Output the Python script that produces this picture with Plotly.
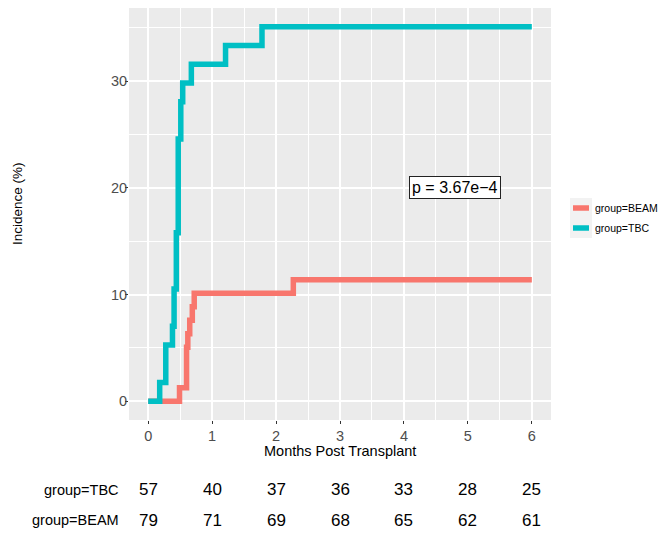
import plotly.graph_objects as go

# ---- data ----
tbc_time = [0, 0.18, 0.275, 0.38, 0.405, 0.44, 0.47, 0.51, 0.54, 0.675, 1.21, 1.78, 6]
tbc_inc = [0, 1.75, 5.26, 7.02, 10.53, 15.79, 24.56, 28.07, 29.82, 31.58, 33.33, 35.09, 35.09]
beam_time = [0, 0.49, 0.6, 0.62, 0.65, 0.69, 0.72, 2.27, 6]
beam_inc = [0, 1.27, 5.06, 6.33, 7.59, 8.86, 10.13, 11.39, 11.39]

risk_times = [0, 1, 2, 3, 4, 5, 6]
risk_tbc = [57, 40, 37, 36, 33, 28, 25]
risk_beam = [79, 71, 69, 68, 65, 62, 61]

x_ticks = [0, 1, 2, 3, 4, 5, 6]
y_ticks = [0, 10, 20, 30]
p_text = "p = 3.67e\u22124"

RED = "#F8766D"
TEAL = "#00BFC4"
FONT = "Liberation Sans, Arial, sans-serif"

W, H = 663, 538
L, R, T, B = 129, 112, 8, 118
PW, PH = W - L - R, H - T - B


def px(xp):
    return (xp - L) / PW


def py(yp):
    return (H - B - yp) / PH


fig = go.Figure()
fig.add_trace(go.Scatter(x=beam_time, y=beam_inc, mode="lines", line=dict(color=RED, width=5.5, shape="hv"),
                         name="group=BEAM", showlegend=False, hoverinfo="skip"))
fig.add_trace(go.Scatter(x=tbc_time, y=tbc_inc, mode="lines", line=dict(color=TEAL, width=5.5, shape="hv"),
                         name="group=TBC", showlegend=False, hoverinfo="skip"))

ann = []
# p-value box
ann.append(dict(x=4.8, y=20, xref="x", yref="y", text=p_text, showarrow=False,
                font=dict(family=FONT, size=16, color="black"), bgcolor="white",
                bordercolor="#222222", borderwidth=1, borderpad=2))
# axis titles
ann.append(dict(x=0.5, y=py(451), xref="paper", yref="paper", text="Months Post Transplant",
                showarrow=False, font=dict(family=FONT, size=14.5, color="black"),
                xanchor="center", yanchor="middle"))
ann.append(dict(x=px(17), y=py(203), xref="paper", yref="paper", text="Incidence (%)",
                showarrow=False, textangle=-90, font=dict(family=FONT, size=13.5, color="black"),
                xanchor="center", yanchor="middle"))
# risk table
rows = [("group=TBC", risk_tbc, 490), ("group=BEAM", risk_beam, 520)]
for label, vals, yp in rows:
    ann.append(dict(x=px(121), y=py(yp), xref="paper", yref="paper", text=label, showarrow=False,
                    xanchor="right", yanchor="middle", font=dict(family=FONT, size=14.5, color="black")))
    for t, v in zip(risk_times, vals):
        ann.append(dict(x=t, y=py(yp), xref="x", yref="paper", text=str(v), showarrow=False,
                        xanchor="center", yanchor="middle", font=dict(family=FONT, size=17, color="black")))

# custom legend
shapes = []
for label, col, yp in [("group=BEAM", RED, 208), ("group=TBC", TEAL, 228)]:
    shapes.append(dict(type="rect", xref="paper", yref="paper", x0=px(570), x1=px(592),
                       y0=py(yp + 10), y1=py(yp - 10), fillcolor="#F2F2F2", line=dict(width=0), layer="below"))
    shapes.append(dict(type="line", xref="paper", yref="paper", x0=px(573), x1=px(589),
                       y0=py(yp), y1=py(yp), line=dict(color=col, width=5.5)))
    ann.append(dict(x=px(593), y=py(yp), xref="paper", yref="paper", text=label, showarrow=False,
                    xanchor="left", yanchor="middle", font=dict(family=FONT, size=10.5, color="black")))

fig.update_layout(
    width=W, height=H,
    margin=dict(l=L, r=R, t=T, b=B, pad=0),
    paper_bgcolor="white", plot_bgcolor="#EBEBEB",
    showlegend=False,
    annotations=ann, shapes=shapes,
    font=dict(family=FONT),
)
fig.update_xaxes(range=[-0.3, 6.3], tickvals=x_ticks, ticks="outside", ticklen=3, tickwidth=1,
                 tickcolor="#333333", tickfont=dict(family=FONT, size=14.5, color="#4D4D4D"),
                 showgrid=True, gridcolor="white", gridwidth=1.6, zeroline=False, showline=False,
                 minor=dict(tickvals=[0.5, 1.5, 2.5, 3.5, 4.5, 5.5], showgrid=True, gridcolor="white",
                            gridwidth=0.8, ticks=""))
fig.update_yaxes(range=[-1.755, 36.845], tickvals=y_ticks, ticks="outside", ticklen=3, tickwidth=1,
                 tickcolor="#333333", tickfont=dict(family=FONT, size=14.5, color="#4D4D4D"),
                 ticklabelstandoff=-5,
                 showgrid=True, gridcolor="white", gridwidth=1.6, zeroline=False, showline=False,
                 minor=dict(tickvals=[5, 15, 25, 35], showgrid=True, gridcolor="white",
                            gridwidth=0.8, ticks=""))

fig.write_html("out.html", config={"displayModeBar": False},
               post_script="document.body.style.margin='0';document.body.style.padding='0';")
